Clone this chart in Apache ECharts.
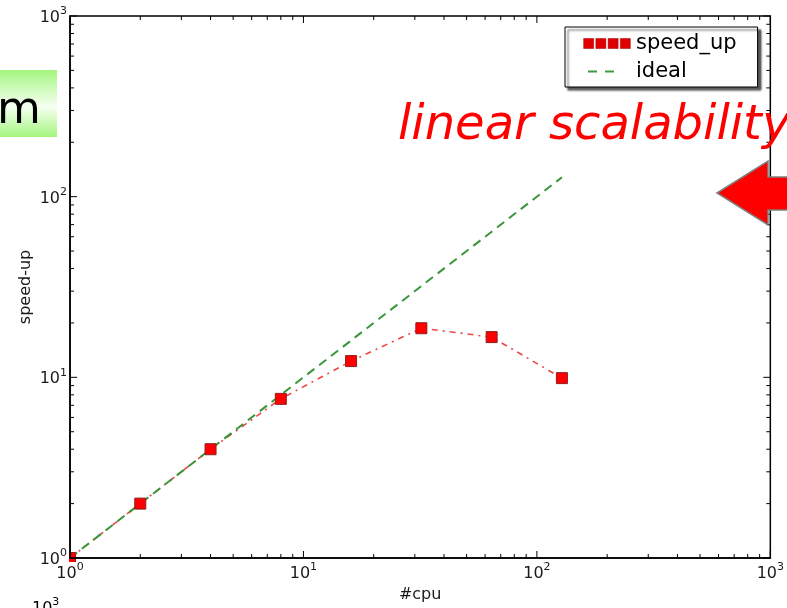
<!DOCTYPE html>
<html><head><meta charset="utf-8">
<script src="https://cdn.jsdelivr.net/npm/echarts@6/dist/echarts.min.js"></script>
<style>html,body{margin:0;padding:0;background:#fff;}#chart{width:787px;height:608px;}</style>
</head><body><div id="chart"></div>
<script>
const cpuCounts = [1, 2, 4, 8, 16, 32, 64, 128];
const speedUp = [1, 2.0, 4.0, 7.6, 12.3, 18.7, 16.7, 9.9];
const idealSpeedUp = [1, 2, 4, 8, 16, 32, 64, 128];
const majorTickValues = [1, 10, 100, 1000];
const minorTickValues = [2,3,4,5,6,7,8,9,20,30,40,50,60,70,80,90,200,300,400,500,600,700,800,900];
const seriesNames = ['speed_up', 'ideal'];
const xAxisTitle = '#cpu';
const yAxisTitle = 'speed-up';
const annotationText = 'linear scalability';
const sideBoxText = 'm';
const cutLabelExponent = '3';

const FONT = 'DejaVu Sans';
const expLabel = v => '{b|10}{s|' + Math.round(Math.log10(v)) + '}';
const labelRich = {
  b: {fontFamily: FONT, fontSize: 16, color: '#1a1a1a', lineHeight: 20, verticalAlign: 'bottom'},
  s: {fontFamily: FONT, fontSize: 11, color: '#1a1a1a', lineHeight: 20, verticalAlign: 'top'}
};

const tickData = majorTickValues.map(v => [v, v, 1]).concat(minorTickValues.map(v => [v, v, 0]));

const chart = echarts.init(document.getElementById('chart'), null, {renderer: 'canvas'});
const option = {
  animation: false,
  backgroundColor: '#fff',
  grid: {left: 70, right: 15, top: 16, bottom: 47, show: true, borderColor: '#000', borderWidth: 1.5},
  xAxis: {
    type: 'log', logBase: 10, min: 1, max: 1000, interval: 1, z: 4,
    name: xAxisTitle, nameLocation: 'middle', nameGap: 29, nameMoveOverlap: false,
    nameTextStyle: {fontFamily: FONT, fontSize: 16, color: '#1a1a1a'},
    axisLine: {show: true, lineStyle: {color: '#000', width: 1.5}},
    axisTick: {show: false}, minorTick: {show: false},
    splitLine: {show: false},
    axisLabel: {formatter: expLabel, rich: labelRich, margin: 4, showMinLabel: true, showMaxLabel: true}
  },
  yAxis: {
    type: 'log', logBase: 10, min: 1, max: 1000, interval: 1, z: 4,
    name: yAxisTitle, nameLocation: 'middle', nameGap: 36, nameRotate: 90, nameMoveOverlap: false,
    nameTextStyle: {fontFamily: FONT, fontSize: 16, color: '#1a1a1a'},
    axisLine: {show: true, lineStyle: {color: '#000', width: 1.5}},
    axisTick: {show: false}, minorTick: {show: false},
    splitLine: {show: false},
    axisLabel: {formatter: expLabel, rich: labelRich, margin: 3, showMinLabel: true, showMaxLabel: true}
  },
  legend: {
    orient: 'vertical', left: 565, top: 27,
    padding: [6, 21, 5, 18], itemGap: 7, itemWidth: 48, itemHeight: 10,
    backgroundColor: '#fff', borderColor: '#000', borderWidth: 1, borderRadius: 0,
    shadowColor: 'rgba(0,0,0,0.65)', shadowBlur: 2, shadowOffsetX: 3, shadowOffsetY: 3,
    textStyle: {fontFamily: FONT, fontSize: 21, color: '#000', lineHeight: 21},
    data: [
      {name: seriesNames[0], icon: 'path://M0,0h9v9h-9z M11,0h9v9h-9z M22,0h9v9h-9z M33,0h9v9h-9z',
       itemStyle: {color: '#e00000', borderColor: '#a00000', borderWidth: 0.5}},
      {name: seriesNames[1], icon: 'path://M0,0 M48,10 M5,4h9v2h-9z M22,4h9v2h-9z',
       itemStyle: {color: '#3d9a3d'}}
    ]
  },
  series: [
    {
      name: seriesNames[0], type: 'line', z: 2,
      data: cpuCounts.map((c, i) => [c, speedUp[i]]),
      symbol: 'rect', symbolSize: 11,
      itemStyle: {color: '#ff0000', borderColor: '#8f1f1f', borderWidth: 1},
      lineStyle: {color: 'rgba(235,50,50,0.9)', width: 1.6, type: [6, 5, 2, 5]}
    },
    {
      name: seriesNames[1], type: 'line', z: 2,
      data: cpuCounts.map((c, i) => [c, idealSpeedUp[i]]),
      symbol: 'none',
      itemStyle: {color: '#3d9a3d'},
      lineStyle: {color: '#3a963a', width: 2, type: [9, 6]}
    },
    {
      name: 'ticks', type: 'custom', silent: true, z: 3, clip: false,
      encode: {x: 0, y: 1},
      data: tickData,
      renderItem: function (params, api) {
        const v = api.value(0), major = api.value(2);
        const p = api.coord([v, v]);
        const cs = params.coordSys;
        const len = major ? 7 : 4;
        const x0 = cs.x, x1 = cs.x + cs.width, y0 = cs.y, y1 = cs.y + cs.height;
        const st = {stroke: '#000', lineWidth: 1};
        return {type: 'group', children: [
          {type: 'line', shape: {x1: p[0], y1: y1, x2: p[0], y2: y1 - len}, style: st},
          {type: 'line', shape: {x1: p[0], y1: y0, x2: p[0], y2: y0 + len}, style: st},
          {type: 'line', shape: {x1: x0, y1: p[1], x2: x0 + len, y2: p[1]}, style: st},
          {type: 'line', shape: {x1: x1, y1: p[1], x2: x1 - len, y2: p[1]}, style: st}
        ]};
      }
    }
  ],
  graphic: [
    {type: 'rect', z: 3, shape: {x: 52, y: 548, width: 17, height: 30}, style: {fill: '#fff'}, silent: true},
    {type: 'rect', z: 3, shape: {x: 60, y: 562, width: 25, height: 14}, style: {fill: '#fff'}, silent: true},
    {type: 'rect', z: 10, shape: {x: 0, y: 70, width: 57, height: 67},
     style: {fill: new echarts.graphic.LinearGradient(0, 0, 0, 1, [
       {offset: 0, color: '#a4f57e'}, {offset: 0.55, color: '#f6fff2'}, {offset: 1, color: '#a4f57e'}])}},
    {type: 'text', z: 11, x: 19, y: 111,
     style: {text: sideBoxText, font: '45px "DejaVu Sans"', fill: '#000', align: 'center', verticalAlign: 'middle'}},
    {type: 'text', z: 11, x: 398, y: 127,
     style: {text: annotationText, font: 'italic 48px "DejaVu Sans"', fill: '#ff0000', align: 'left', verticalAlign: 'middle'}},
    {type: 'polygon', z: 11,
     shape: {points: [[717, 193], [768, 161], [768, 177], [792, 177], [792, 210], [768, 210], [768, 225]]},
     style: {fill: '#ff0000', stroke: '#7f7f7f', lineWidth: 1.5}},
    {type: 'text', z: 11, x: 32, y: 597,
     style: {text: '{b|10}{s|' + cutLabelExponent + '}', rich: labelRich, align: 'left', verticalAlign: 'top'}}
  ]
};
chart.setOption(option);
</script></body></html>
